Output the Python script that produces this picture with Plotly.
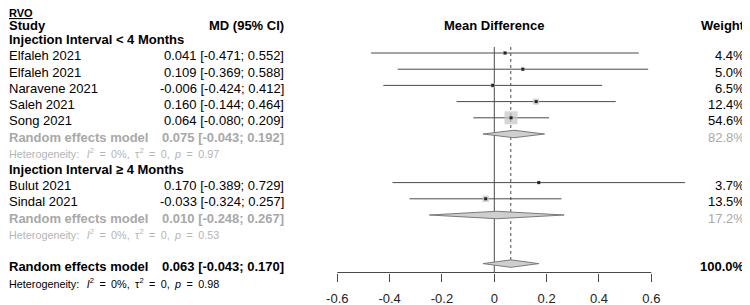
import math
import plotly.graph_objects as go

# ---------------- data ----------------
studies = ["Elfaleh 2021", "Elfaleh 2021", "Naravene 2021", "Saleh 2021", "Song 2021",
           "Bulut 2021", "Sindal 2021"]
study_group = [0, 0, 0, 0, 0, 1, 1]
md = [0.041, 0.109, -0.006, 0.160, 0.064, 0.170, -0.033]
lower = [-0.471, -0.369, -0.424, -0.144, -0.080, -0.389, -0.324]
upper = [0.552, 0.588, 0.412, 0.464, 0.209, 0.729, 0.257]
weight = [4.4, 5.0, 6.5, 12.4, 54.6, 3.7, 13.5]

group_labels = ["Injection Interval &lt; 4 Months", "Injection Interval ≥ 4 Months"]
group_md = [0.075, 0.010]
group_lower = [-0.043, -0.248]
group_upper = [0.192, 0.267]
group_weight = [82.8, 17.2]
group_i2 = ["0%", "0%"]
group_tau2 = ["0", "0"]
group_p = ["0.97", "0.53"]

overall_md = 0.063
overall_lower = -0.043
overall_upper = 0.170
overall_weight = 100.0
overall_i2 = "0%"
overall_tau2 = "0"
overall_p = "0.98"

tickvals = [-0.6, -0.4, -0.2, 0, 0.2, 0.4, 0.6]
ticktext = ["-0.6", "-0.4", "-0.2", "0", "0.2", "0.4", "0.6"]

# ---------------- layout constants ----------------
# The page body adds an 8px margin, so the figure is drawn 8px smaller and
# all reference pixel positions are shifted by OFF.
OFF = 8
W, H = 750 - OFF, 305 - OFF
Y0, DY = 4.4 - OFF, 16.2            # figure pixel of row 0, spacing per row
X_ZERO, PPU = 494.3 - OFF, 261.7    # figure pixel of x=0, pixels per unit
AXIS_PX = 272.5 - OFF
DOMAIN_BOTTOM_PX = 273.0 - OFF
TEXT_DY = 3.0

FONT = "Liberation Sans, Arial, sans-serif"
GRAY_TXT = "#a8a8a8"
GRAY_HET = "#b5b5b5"
LINE_COL = "#4a4a4a"
EN, THIN = "\u2002", "\u2009"


def prow(r):
    return Y0 + DY * r


def rowof(px):
    return (px - Y0) / DY


def paper_y_px(px):
    return 1 - px / H


def paper_x(px):
    return px / W


# row assignment
rows_study = []
rows_group_label = []
rows_group_re = []
rows_group_het = []
r = 2
for g in range(len(group_labels)):
    rows_group_label.append(r)
    r += 1
    for i, sg in enumerate(study_group):
        if sg == g:
            rows_study.append((i, r))
            r += 1
    rows_group_re.append(r)
    r += 1
    rows_group_het.append(r)
    r += 1
row_overall = r + 1
row_overall_het = r + 2

fig = go.Figure()

# CI lines
xs, ys = [], []
for i, rr in rows_study:
    xs += [lower[i], upper[i], None]
    ys += [rr, rr, None]
fig.add_trace(go.Scatter(x=xs, y=ys, mode="lines", line=dict(color=LINE_COL, width=1),
                         hoverinfo="skip", showlegend=False))

# vertical reference lines
top_row = rowof(47 - OFF)
fig.add_trace(go.Scatter(x=[0, 0], y=[top_row, rowof(AXIS_PX)], mode="lines",
                         line=dict(color=LINE_COL, width=1), hoverinfo="skip", showlegend=False))
fig.add_trace(go.Scatter(x=[overall_md, overall_md], y=[top_row, rowof(268 - OFF)], mode="lines",
                         line=dict(color=LINE_COL, width=1, dash="dot"),
                         hoverinfo="skip", showlegend=False))

# weighted squares
sq_x = [md[i] for i, _ in rows_study]
sq_y = [rr for _, rr in rows_study]
sq_s = [1.76 * math.sqrt(weight[i]) for i, _ in rows_study]
fig.add_trace(go.Scatter(x=sq_x, y=sq_y, mode="markers",
                         marker=dict(symbol="square", size=sq_s, color="#c4c4c4",
                                     line=dict(width=0)),
                         hoverinfo="skip", showlegend=False))
fig.add_trace(go.Scatter(x=sq_x, y=sq_y, mode="markers",
                         marker=dict(symbol="square", size=3, color="#222222",
                                     line=dict(width=0)),
                         hoverinfo="skip", showlegend=False))


def diamond(est, lo, hi, rr, half=0.23):
    fig.add_trace(go.Scatter(x=[lo, est, hi, est, lo], y=[rr, rr - half, rr, rr + half, rr],
                             mode="lines", fill="toself", fillcolor="#cfcfcf",
                             line=dict(color="#7a7a7a", width=1),
                             hoverinfo="skip", showlegend=False))


for g in range(len(group_labels)):
    diamond(group_md[g], group_lower[g], group_upper[g], rows_group_re[g])
diamond(overall_md, overall_lower, overall_upper, row_overall)

# axis line
fig.add_trace(go.Scatter(x=[tickvals[0], tickvals[-1]], y=[rowof(AXIS_PX)] * 2, mode="lines",
                         line=dict(color=LINE_COL, width=1), hoverinfo="skip", showlegend=False))

# ---------------- text ----------------
ann = []


def txt(text, px, r, anchor="left", size=13, color="black", y_px=None, underline=False):
    ypx = y_px if y_px is not None else prow(r) + TEXT_DY
    font = dict(family=FONT, size=size, color=color)
    if underline:
        font["lineposition"] = "under"
    ann.append(dict(text=text, x=paper_x(px), xref="paper",
                    y=paper_y_px(ypx), yref="paper",
                    xanchor=anchor, yanchor="middle", showarrow=False, font=font))


def fmt_ci(e, lo, hi):
    return f"{e:.3f} [{lo:.3f}; {hi:.3f}]"


def het(i2, t2, p):
    eq = f"{EN}={EN}"
    return (f"Heterogeneity:{EN}{THIN}<i>I</i><sup>2</sup>{eq}{i2},{EN}"
            f"τ<sup>2</sup>{eq}{t2},{EN}<i>p</i>{eq}{p}")


LEFT, MD_RIGHT, W_RIGHT = -1, 286 - OFF, 746.5 - OFF
HET_SIZE = 10.8
HEADER_Y = 25.5 - OFF
txt("<b>RVO</b>", LEFT, 0, size=11, y_px=5.2, underline=True)
txt("<b>Study</b>", LEFT, 1, y_px=HEADER_Y)
txt("<b>MD (95% CI)</b>", MD_RIGHT, 1, anchor="right", y_px=HEADER_Y)
txt("<b>Mean Difference</b>", X_ZERO, 1, anchor="center", y_px=HEADER_Y)
txt("<b>Weight</b>", W_RIGHT, 1, anchor="right", y_px=HEADER_Y)

for g in range(len(group_labels)):
    txt(f"<b>{group_labels[g]}</b>", LEFT, rows_group_label[g])
    txt("<b>Random effects model</b>", LEFT, rows_group_re[g], color=GRAY_TXT)
    txt(f"<b>{fmt_ci(group_md[g], group_lower[g], group_upper[g])}</b>", MD_RIGHT,
        rows_group_re[g], anchor="right", color=GRAY_TXT)
    txt(f"{group_weight[g]:.1f}%", W_RIGHT, rows_group_re[g], anchor="right", color=GRAY_TXT)
    txt(het(group_i2[g], group_tau2[g], group_p[g]), LEFT, rows_group_het[g], size=HET_SIZE,
        color=GRAY_HET)

for i, rr in rows_study:
    txt(studies[i], LEFT, rr)
    txt(fmt_ci(md[i], lower[i], upper[i]), MD_RIGHT, rr, anchor="right")
    txt(f"{weight[i]:.1f}%", W_RIGHT, rr, anchor="right")

txt("<b>Random effects model</b>", LEFT, row_overall)
txt(f"<b>{fmt_ci(overall_md, overall_lower, overall_upper)}</b>", MD_RIGHT, row_overall,
    anchor="right")
txt(f"<b>{overall_weight:.1f}%</b>", W_RIGHT, row_overall, anchor="right")
txt(het(overall_i2, overall_tau2, overall_p), LEFT, row_overall_het, size=HET_SIZE)

fig.update_layout(
    width=W, height=H, autosize=False,
    margin=dict(l=0, r=0, t=0, b=0),
    paper_bgcolor="white", plot_bgcolor="white",
    annotations=ann,
    xaxis=dict(domain=[0, 1], range=[-X_ZERO / PPU, (W - X_ZERO) / PPU],
               showgrid=False, zeroline=False, showline=False,
               tickvals=tickvals, ticktext=ticktext, ticks="outside", ticklen=8,
               tickcolor=LINE_COL, tickwidth=1, ticklabelstandoff=5,
               tickfont=dict(family=FONT, size=13, color="#222222"), fixedrange=True),
    yaxis=dict(domain=[(H - DOMAIN_BOTTOM_PX) / H, 1],
               range=[rowof(DOMAIN_BOTTOM_PX), rowof(0)],
               visible=False, fixedrange=True),
    showlegend=False,
)

fig.write_html("out.html")
